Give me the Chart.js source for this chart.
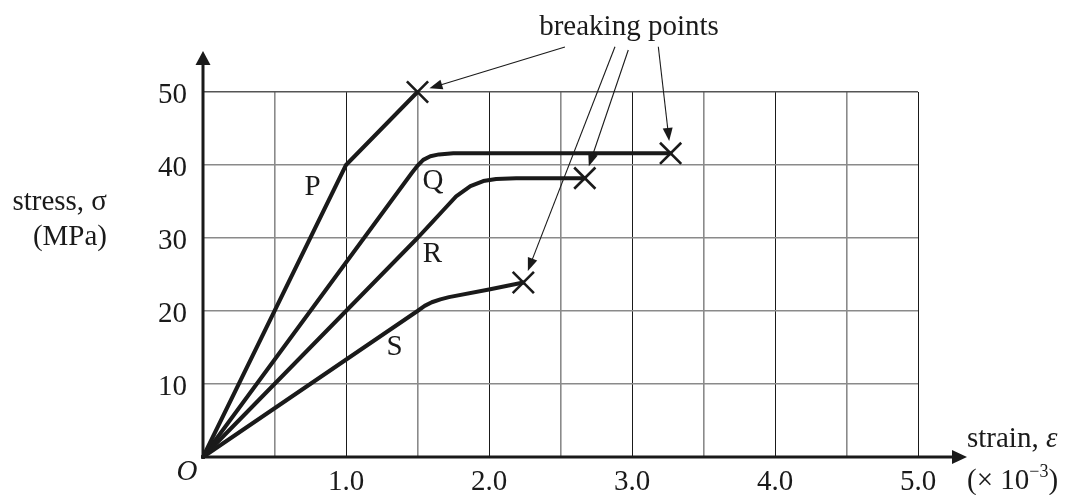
<!DOCTYPE html>
<html>
<head>
<meta charset="utf-8">
<script src="https://cdn.jsdelivr.net/npm/chart.js@4.4.1/dist/chart.umd.min.js"></script>
<style>
  body { margin: 0; background: #fff; }
  #wrap { width: 1070px; height: 495px; }
</style>
</head>
<body>
<div id="wrap"><canvas id="myChart"></canvas></div>
<script>
// curves (strain x10^-3, stress MPa)
var pStrain = [0, 1.0, 1.5];
var pStress = [0, 40, 50];
var qStrain = [0, 1.46, 1.5, 1.54, 1.59, 1.65, 1.75, 3.27];
var qStress = [0, 38.9, 39.9, 40.7, 41.2, 41.45, 41.6, 41.6];
var rStrain = [0, 1.5, 1.6, 1.68, 1.77, 1.87, 1.96, 2.05, 2.19, 2.67];
var rStress = [0, 30, 32.1, 33.8, 35.7, 37.1, 37.8, 38.08, 38.2, 38.2];
var sStrain = [0, 1.5, 1.55, 1.6, 1.66, 1.72, 2.0, 2.24];
var sStress = [0, 20, 20.7, 21.2, 21.6, 21.9, 22.95, 23.9];

// breaking points (P, Q, R, S)
var breakStrain = [1.5, 3.27, 2.67, 2.24];
var breakStress = [50, 41.6, 38.2, 23.9];

// curve names and where they sit
var curveNames = ['P', 'Q', 'R', 'S'];
var nameStrain = [0.766, 1.608, 1.605, 1.34];
var nameStress = [37.0, 37.7, 27.7, 15.0];

// "breaking points" label and its arrows (tails, each pointing to a breaking point)
var noteText = 'breaking points';
var noteStrain = 2.979;
var noteStress = 57.8;
var arrowTailStrain = [2.531, 3.184, 2.974, 2.881];
var arrowTailStress = [56.16, 56.2, 55.75, 56.2];

var xTickLabels = ['1.0', '2.0', '3.0', '4.0', '5.0'];
var yTickLabels = ['10', '20', '30', '40', '50'];

var ink = '#1a1a1a';
var serif = '"Liberation Serif", "Times New Roman", serif';
var fs = 29;

function pts(xs, ys) {
    var out = [];
    for (var i = 0; i < xs.length; i++) out.push({x: xs[i], y: ys[i]});
    return out;
}
function isWhole(v) { return Math.abs(v - Math.round(v)) < 1e-6; }

function arrowHead(c, x1, y1, x2, y2, len, half) {
    var dx = x2 - x1, dy = y2 - y1;
    var d = Math.sqrt(dx * dx + dy * dy);
    var ux = dx / d, uy = dy / d;
    c.beginPath();
    c.moveTo(x2, y2);
    c.lineTo(x2 - ux * len - uy * half, y2 - uy * len + ux * half);
    c.lineTo(x2 - ux * len + uy * half, y2 - uy * len - ux * half);
    c.closePath();
    c.fill();
}

var extras = {
    id: 'extras',
    afterDatasetsDraw: function(chart) {
        var c = chart.ctx, a = chart.chartArea;
        var xs = chart.scales.x, ys = chart.scales.y;
        var x0 = xs.getPixelForValue(0), y0 = ys.getPixelForValue(0);
        c.save();
        c.strokeStyle = ink;
        c.fillStyle = ink;

        // axes with arrows
        c.lineWidth = 3;
        c.beginPath();
        c.moveTo(x0, y0); c.lineTo(x0, a.top - 30);
        c.moveTo(x0 - 1.5, y0); c.lineTo(a.right + 36, y0);
        c.stroke();
        arrowHead(c, x0, y0, x0, a.top - 41, 14, 7.5);
        arrowHead(c, x0, y0, a.right + 49, y0, 15, 7);

        // arrows from the note to the breaking points
        c.lineWidth = 1.1;
        for (var i = 0; i < arrowTailStrain.length; i++) {
            var tx = xs.getPixelForValue(arrowTailStrain[i]);
            var ty = ys.getPixelForValue(arrowTailStress[i]);
            var bx = xs.getPixelForValue(breakStrain[i]);
            var by = ys.getPixelForValue(breakStress[i]);
            var dx = tx - bx, dy = ty - by;
            var d = Math.sqrt(dx * dx + dy * dy);
            var hx = bx + dx / d * 12.5, hy = by + dy / d * 12.5;
            c.beginPath();
            c.moveTo(tx, ty); c.lineTo(hx + dx / d * 8, hy + dy / d * 8);
            c.stroke();
            arrowHead(c, tx, ty, hx, hy, 13, 5);
        }

        // texts
        c.font = fs + 'px ' + serif;
        c.textBaseline = 'alphabetic';
        c.textAlign = 'center';
        c.fillText(noteText, xs.getPixelForValue(noteStrain), ys.getPixelForValue(noteStress));

        c.textBaseline = 'middle';
        for (var j = 0; j < curveNames.length; j++) {
            c.fillText(curveNames[j], xs.getPixelForValue(nameStrain[j]), ys.getPixelForValue(nameStress[j]));
        }
        c.font = 'italic ' + fs + 'px ' + serif;
        c.fillText('O', x0 - 16, y0 + 15);

        // y axis title
        c.font = fs + 'px ' + serif;
        c.textAlign = 'right';
        c.textBaseline = 'alphabetic';
        c.fillText('stress, σ', x0 - 96, a.top + 118);
        c.fillText('(MPa)', x0 - 96, a.top + 153);

        // x axis title
        c.textAlign = 'left';
        var lx = a.right + 49, w;
        c.fillText('strain, ', lx, y0 - 10);
        w = c.measureText('strain, ').width;
        c.font = 'italic ' + fs + 'px ' + serif;
        c.fillText('ε', lx + w, y0 - 10);
        c.font = fs + 'px ' + serif;
        c.fillText('(× 10', lx, y0 + 32);
        w = c.measureText('(× 10').width;
        c.font = '18px ' + serif;
        c.fillText('−3', lx + w, y0 + 20);
        var w2 = c.measureText('−3').width;
        c.font = fs + 'px ' + serif;
        c.fillText(')', lx + w + w2, y0 + 32);
        c.restore();
    }
};

Chart.defaults.font.family = serif;
Chart.defaults.font.size = fs;
Chart.defaults.color = ink;

var curveStyle = {
    showLine: true,
    borderColor: ink,
    borderWidth: 4,
    pointRadius: 0,
    pointHoverRadius: 0,
    fill: false,
    tension: 0,
    clip: false,
    borderJoinStyle: 'round',
    borderCapStyle: 'round'
};

var ctx = document.getElementById('myChart').getContext('2d');
new Chart(ctx, {
    type: 'scatter',
    data: {
        datasets: [
            Object.assign({label: 'P', data: pts(pStrain, pStress)}, curveStyle),
            Object.assign({label: 'Q', data: pts(qStrain, qStress)}, curveStyle),
            Object.assign({label: 'R', data: pts(rStrain, rStress)}, curveStyle),
            Object.assign({label: 'S', data: pts(sStrain, sStress)}, curveStyle),
            {
                label: 'breaking points',
                data: pts(breakStrain, breakStress),
                showLine: false,
                clip: false,
                pointStyle: 'crossRot',
                pointRadius: 15,
                pointHoverRadius: 15,
                borderColor: ink,
                borderWidth: 2.6
            }
        ]
    },
    plugins: [extras],
    options: {
        responsive: true,
        maintainAspectRatio: false,
        animation: false,
        devicePixelRatio: 1,
        events: [],
        layout: { padding: { left: 0, right: 152, top: 92, bottom: 0 } },
        plugins: { legend: { display: false }, tooltip: { enabled: false } },
        scales: {
            x: {
                type: 'linear',
                min: 0, max: 5,
                afterFit: function(s) { s.height = 38; },
                border: { display: false },
                grid: {
                    drawTicks: false,
                    color: function(c) { return isWhole(c.tick.value) ? '#1a1a1a' : '#8a8a8a'; },
                    lineWidth: function(c) { return isWhole(c.tick.value) ? 1 : 1.6; }
                },
                ticks: {
                    stepSize: 0.5,
                    autoSkip: false,
                    maxRotation: 0,
                    padding: 8,
                    callback: function(v) {
                        if (!isWhole(v) || v <= 0) return '';
                        return xTickLabels[Math.round(v) - 1];
                    }
                }
            },
            y: {
                min: 0, max: 50,
                afterFit: function(s) { s.width = 203; },
                border: { display: false },
                grid: {
                    drawTicks: false,
                    color: function(c) { return c.tick.value === 50 ? '#555' : '#8a8a8a'; },
                    lineWidth: 1.6
                },
                ticks: {
                    stepSize: 10,
                    padding: 16,
                    labelOffset: 3,
                    callback: function(v) {
                        if (v <= 0) return '';
                        return yTickLabels[Math.round(v / 10) - 1];
                    }
                }
            }
        }
    }
});
</script>
</body>
</html>
